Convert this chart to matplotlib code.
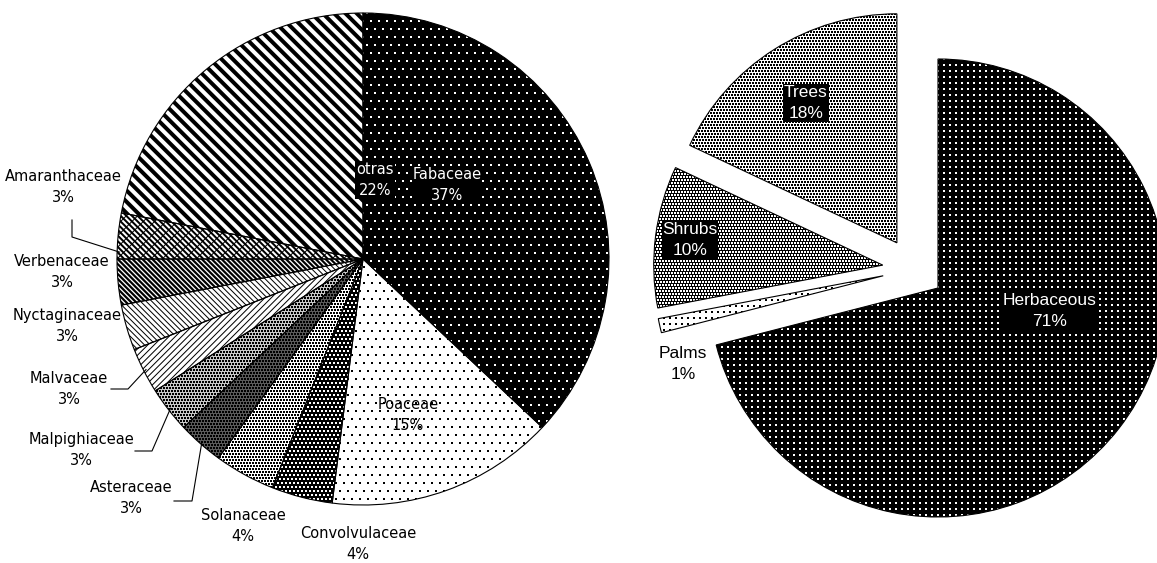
import numpy as np
import matplotlib.pyplot as plt
from matplotlib.collections import LineCollection
from matplotlib.patches import Wedge

W, H, DPI = 1157, 563, 100

# Plant families, percent of recorded species
families = ["Fabaceae", "Poaceae", "Convolvulaceae", "Solanaceae", "Asteraceae",
            "Malpighiaceae", "Malvaceae", "Nyctaginaceae", "Verbenaceae",
            "Amaranthaceae", "otras"]
family_pct = [37, 15, 4, 4, 3, 3, 3, 3, 3, 3, 22]

# Growth forms, percent of recorded species
forms = ["Herbaceous", "Palms", "Shrubs", "Trees"]
form_pct = [71, 1, 10, 18]

# fill style per slice: (base colour, texture kind, texture options)
TEXTURE = {
    "Fabaceae":       ("black", "dots", dict(spacing=8, size=1.2, color="white", stagger=True)),
    "Poaceae":        ("white", "dots", dict(spacing=8, size=1.2, color="black", stagger=True)),
    "Convolvulaceae": ("black", "dots", dict(spacing=4, size=1.3, color="white", stagger=True)),
    "Solanaceae":     ("white", "dots", dict(spacing=3, size=1.2, color="black", stagger=True)),
    "Asteraceae":     ("#5a5a5a", "dots", dict(spacing=3, size=1.2, color="black", stagger=True)),
    "Malpighiaceae":  ("#c8c8c8", "dots", dict(spacing=3, size=1.2, color="black", stagger=True)),
    "Malvaceae":      ("white", "stripes", [dict(angle=-45, spacing=4.5, lw=1.0)]),
    "Nyctaginaceae":  ("white", "stripes", [dict(angle=45, spacing=4, lw=1.0)]),
    "Verbenaceae":    ("white", "stripes", [dict(angle=45, spacing=3.5, lw=2.2)]),
    "Amaranthaceae":  ("white", "stripes", [dict(angle=45, spacing=4, lw=2.0),
                                            dict(angle=-45, spacing=8, lw=1.0)]),
    "otras":          ("white", "stripes", [dict(angle=45, spacing=8, lw=4.0)]),
    "Herbaceous":     ("black", "dots", dict(spacing=6, size=1.3, color="white", stagger=False)),
    "Palms":          ("white", "dots", dict(spacing=6, size=1.3, color="black", stagger=False)),
    "Shrubs":         ("black", "dots", dict(spacing=3, size=1.3, color="white", stagger=True)),
    "Trees":          ("white", "dots", dict(spacing=3, size=1.1, color="black", stagger=True)),
}

# label block centres (pixel coords, y down) and whether the label sits on a black box
LEFT_LABELS = {
    "Fabaceae": (447, 185, True), "Poaceae": (408, 415, False),
    "Convolvulaceae": (358, 544, False), "Solanaceae": (243, 526, False),
    "Asteraceae": (131, 498, False), "Malpighiaceae": (81, 450, False),
    "Malvaceae": (69, 389, False), "Nyctaginaceae": (67, 326, False),
    "Verbenaceae": (62, 272, False), "Amaranthaceae": (63, 187, False),
    "otras": (375, 180, True),
}
RIGHT_LABELS = {
    "Herbaceous": (1050, 311, True), "Palms": (683, 364, False),
    "Shrubs": (690, 240, True), "Trees": (806, 103, True),
}
# leader lines: elbow points, then where along the slice (0..1) the line meets the rim
LEADERS = {
    "Amaranthaceae": ([(72, 220), (72, 237)], 0.15),
    "Malvaceae": ([(111, 389), (128, 389)], 0.5),
    "Malpighiaceae": ([(135, 451), (152, 451)], 0.5),
    "Asteraceae": ([(174, 501), (192, 501)], 0.5),
}


def _grid_extent(patch, pad):
    ext = patch.get_path().get_extents()
    return ext.x0 - pad, ext.x1 + pad, ext.y0 - pad, ext.y1 + pad


def fill_stripes(ax, patch, angle, spacing, lw, color="black"):
    x0, x1, y0, y1 = _grid_extent(patch, spacing)
    cx, cy = (x0 + x1) / 2, (y0 + y1) / 2
    half = np.hypot(x1 - x0, y1 - y0) / 2
    d = np.array([np.cos(np.radians(angle)), np.sin(np.radians(angle))])
    n = np.array([-d[1], d[0]])
    segs = []
    for o in np.arange(-half, half, spacing):
        p = np.array([cx, cy]) + o * n
        segs.append([p - half * d, p + half * d])
    lc = LineCollection(segs, colors=color, linewidths=lw * 72 / DPI, zorder=2)
    ax.add_collection(lc)
    lc.set_clip_path(patch)


def fill_dots(ax, patch, spacing, size, color, stagger):
    x0, x1, y0, y1 = _grid_extent(patch, spacing)
    X, Y = np.meshgrid(np.arange(x0, x1, spacing), np.arange(y0, y1, spacing))
    if stagger:
        X[1::2] += spacing / 2
    sc = ax.scatter(X.ravel(), Y.ravel(), s=(size * 72 / DPI) ** 2, marker="s",
                    c=color, linewidths=0, zorder=2)
    sc.set_clip_path(patch)


def style_wedges(ax, wedges, names):
    for w, name in zip(wedges, names):
        base, kind, opts = TEXTURE[name]
        w.set_facecolor(base)
        w.set_edgecolor("none")
        if kind == "dots":
            fill_dots(ax, w, **opts)
        else:
            for o in opts:
                fill_stripes(ax, w, **o)
        ax.add_patch(Wedge(w.center, w.r, w.theta1, w.theta2, fill=False,
                           edgecolor="black", linewidth=0.8, zorder=3))


def put_labels(ax, names, pct, layout, size, family):
    for name, p in zip(names, pct):
        x, y, boxed = layout[name]
        kw = dict(ha="center", va="center", fontsize=size, family=family,
                  linespacing=1.45, zorder=5)
        if boxed:
            kw.update(color="white",
                      bbox=dict(facecolor="black", edgecolor="none", pad=0.6))
        ax.text(x, y, f"{name}\n{p}%", **kw)


fig = plt.figure(figsize=(W / DPI, H / DPI), dpi=DPI)
ax = fig.add_axes([0, 0, 1, 1])

# left pie: families, clockwise from 12 o'clock (y axis is flipped below)
left_w, _ = ax.pie(family_pct, radius=246, center=(363, 259),
                   startangle=-90, counterclock=True)
style_wedges(ax, left_w, families)

# right pie: growth forms, every slice pulled out a little
right_w, _ = ax.pie(form_pct, radius=229, center=(913.5, 269),
                    startangle=-90, counterclock=True, explode=[31] * len(form_pct))
style_wedges(ax, right_w, forms)

put_labels(ax, families, family_pct, LEFT_LABELS, 10.5, ["DejaVu Sans"])
put_labels(ax, forms, form_pct, RIGHT_LABELS, 12.5, ["Liberation Sans", "DejaVu Sans"])

# leader lines for the small slices
for name, (pts, t) in LEADERS.items():
    w = left_w[families.index(name)]
    ang = np.radians(w.theta1 + t * (w.theta2 - w.theta1))
    rim = (w.center[0] + 0.99 * w.r * np.cos(ang), w.center[1] + 0.99 * w.r * np.sin(ang))
    xs, ys = zip(*(pts + [rim]))
    ax.plot(xs, ys, color="black", linewidth=0.8, zorder=4)

ax.set_xlim(0, W)
ax.set_ylim(H, 0)
ax.set_aspect("equal")
ax.axis("off")

fig.savefig("out.png", dpi=DPI, facecolor="white")
